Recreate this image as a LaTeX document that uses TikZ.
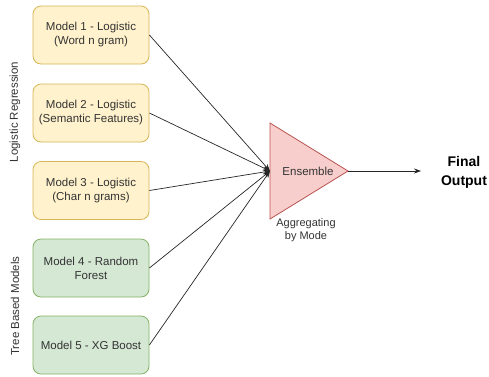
\documentclass[tikz,border=0pt]{standalone}
\usepackage{fontspec}
\setmainfont{Liberation Sans}
\usetikzlibrary{arrows.meta}
\definecolor{yfill}{HTML}{FFF2CC}
\definecolor{ydraw}{HTML}{D6B656}
\definecolor{gfill}{HTML}{D5E8D4}
\definecolor{gdraw}{HTML}{82B366}
\definecolor{rfill}{HTML}{F8CECC}
\definecolor{rdraw}{HTML}{B85450}
\definecolor{txt}{HTML}{333333}
\tikzset{
  model/.style={rounded corners=8pt, minimum width=116pt, minimum height=58pt, inner sep=0pt,
    align=center, font=\fontsize{11.5}{14}\selectfont, text=txt, line width=0.8pt},
  ymodel/.style={model, fill=yfill, draw=ydraw},
  gmodel/.style={model, fill=gfill, draw=gdraw},
  conn/.style={line width=0.7pt, draw=black!85, -{Stealth[length=7pt,width=5pt]}},
  side/.style={rotate=90, font=\fontsize{11.5}{14}\selectfont, text=txt},
  plain/.style={font=\fontsize{11.5}{14}\selectfont, text=txt, align=center}
}
\begin{document}
\begin{tikzpicture}[x=1pt,y=-1pt]
\useasboundingbox (0,0) rectangle (489,376);
\node[ymodel] (m1) at (91,35) {Model 1 - Logistic\\(Word n gram)};
\node[ymodel] (m2) at (91,113) {Model 2 - Logistic\\(Semantic Features)};
\node[ymodel] (m3) at (91,190.5) {Model 3 - Logistic\\(Char n grams)};
\node[gmodel] (m4) at (91,268) {Model 4 - Random\\Forest};
\node[gmodel] (m5) at (91,345) {Model 5 - XG Boost};
\node[side] (lr) at (15,112) {Logistic Regression};
\node[side] (tb) at (15,306) {Tree Based Models};
\coordinate (ta) at (270,123);
\coordinate (tb2) at (270,219);
\coordinate (tip) at (348,171);
\coordinate (tin) at (270,171);
\draw[fill=rfill, draw=rdraw, line width=0.8pt] (ta) -- (tip) -- (tb2) -- cycle;
\node[plain] (ens) at (308,171) {Ensemble};
\node[plain, font=\fontsize{11}{13}\selectfont] (agg) at (306,230) {Aggregating\\by Mode};
\foreach \m in {m1,m2,m3,m4,m5} \draw[conn] (\m.east) -- (tin);
\coordinate (oe) at (421,171);
\draw[conn] (tip) -- (oe);
\node[font=\bfseries\fontsize{14}{19}\selectfont, align=center] (out) at (464,172) {Final\\Output};
\end{tikzpicture}
\end{document}
